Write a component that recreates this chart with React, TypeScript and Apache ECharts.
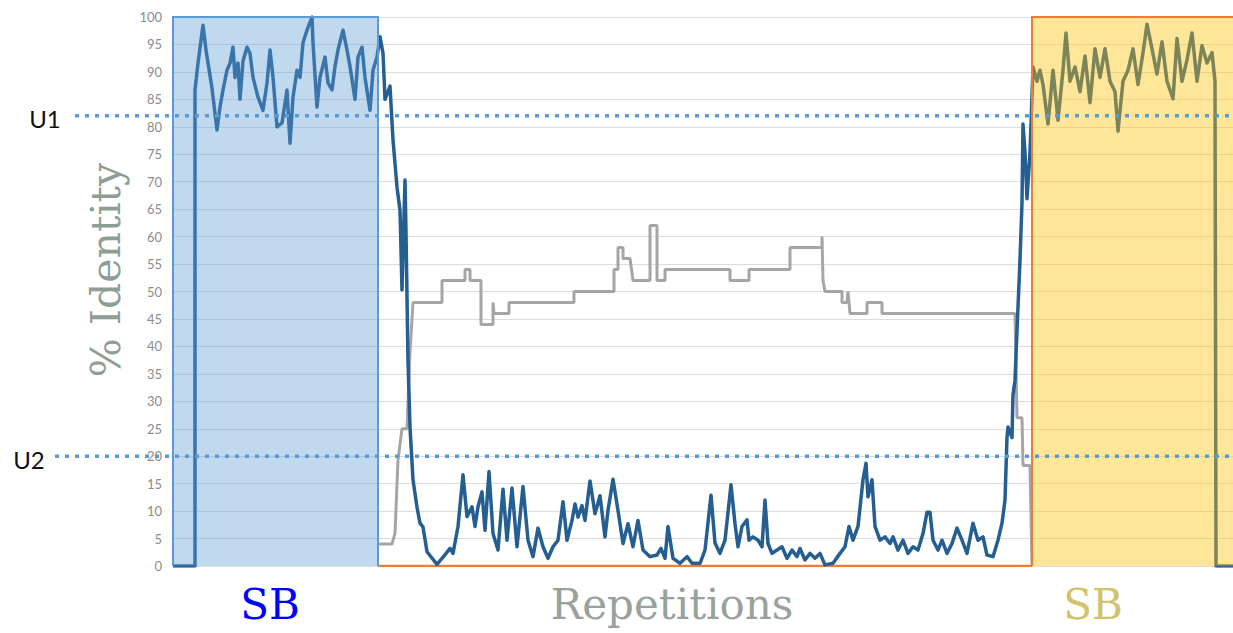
import React, { useEffect, useRef } from "react";
import * as echarts from "echarts";

// Position along the sequence (arbitrary units) and % identity
const positionRange: [number, number] = [0, 1060];
const identityRange: [number, number] = [0, 100];
const identityStep = 5;

// Core identity trace (blue)
const identityTrace: [number, number][] = [
  [0, 0], [22, 0], [22, 86.7], [25, 91.6], [30, 98.5], [33, 94], [39, 87], [44, 79.4],
  [47, 83.6], [50, 86.7], [54, 90.3], [57, 91.6], [60, 94.5], [62, 89], [65, 91.6], [67, 85],
  [70, 92], [74, 94.5], [77, 93.4], [80, 89], [85, 85.4], [90, 83], [94, 88], [97, 94],
  [100, 89], [104, 80], [109, 80.7], [114, 86.7], [117, 77], [120, 85.4], [124, 90.3], [127, 89],
  [130, 95.3], [134, 97.6], [139, 100], [140, 95.3], [144, 83.6], [147, 89], [152, 92.7], [155, 88],
  [159, 86.7], [162, 91], [165, 94], [170, 97.6], [174, 94], [177, 91], [182, 85], [185, 92.7],
  [189, 94.5], [192, 89], [197, 83], [200, 90.3], [204, 92.7], [207, 96.4], [210, 93.4], [212, 85],
  [217, 87.4], [220, 77.6], [224, 69], [227, 64.8], [229, 50.3], [232, 70.3], [233, 60.7], [235, 37.5],
  [237, 25.3], [240, 15.7], [244, 10.7], [247, 7.8], [250, 7.1], [254, 2.6], [264, 0.3], [270, 1.6],
  [277, 3.2], [280, 2.3], [285, 7.2], [290, 16.6], [294, 9], [299, 10.8], [302, 7.2], [305, 10.8],
  [309, 13.5], [312, 6.5], [316, 17.2], [320, 5.9], [325, 2.9], [330, 14], [334, 4.7], [339, 14.2],
  [344, 3.5], [350, 14.5], [355, 4.7], [360, 1.7], [365, 6.9], [370, 3.5], [375, 1.4], [380, 3.5],
  [385, 4.7], [390, 11.7], [394, 4.7], [399, 8.3], [402, 11.3], [405, 8.9], [409, 11], [412, 8.3],
  [417, 15.5], [422, 9.5], [427, 12.8], [432, 5.3], [435, 10.1], [440, 15.8], [445, 10.1], [450, 4.1],
  [455, 7.7], [460, 3.5], [465, 8.3], [470, 2.9], [477, 1.7], [484, 2.0], [488, 3.2], [492, 1.4],
  [495, 7.2], [500, 1.4], [507, 0.5], [514, 1.7], [519, 0.5], [527, 0.5], [532, 2.9], [538, 12.9],
  [542, 4.2], [547, 2.3], [552, 4.7], [558, 14.8], [562, 7.7], [565, 3.5], [569, 7.2], [574, 8.4],
  [576, 4.7], [580, 5.3], [585, 4.7], [589, 3.5], [592, 12], [595, 4.1], [599, 2.3], [604, 2.9],
  [609, 3.5], [614, 1.4], [619, 2.9], [624, 1.7], [627, 3.2], [632, 1.1], [637, 2.3], [642, 1.4],
  [647, 2.3], [652, 0.2], [660, 0.5], [667, 2.3], [672, 3.5], [676, 7.2], [680, 4.7], [685, 7.2],
  [690, 15.7], [693, 18.7], [695, 12.6], [699, 15.7], [702, 7.2], [707, 4.7], [712, 5.3], [717, 4.1],
  [720, 5.3], [725, 2.9], [730, 4.7], [735, 2.3], [740, 3.5], [745, 2.9], [750, 5.9], [754, 9.8],
  [757, 9.8], [760, 4.7], [765, 2.9], [769, 4.7], [774, 2.3], [779, 4.1], [784, 6.9], [789, 4.7],
  [794, 2.3], [800, 7.8], [805, 4.7], [810, 5.3], [814, 2.0], [820, 1.7], [825, 4.7], [829, 7.8],
  [832, 12], [834, 23.4], [835, 25.3], [839, 23.4], [840, 31.2], [842, 33.8], [844, 42.9], [847, 55.8],
  [849, 66.2], [850, 80.5], [852, 75.3], [854, 66.9], [857, 75.3], [860, 90.9], [864, 88.3], [867, 90.3],
  [870, 87.7], [875, 80.5], [880, 90.3], [885, 81.2], [890, 90.3], [893, 97.1], [897, 88.3], [902, 90.9],
  [907, 86.4], [912, 92.9], [917, 84.4], [922, 94.2], [927, 89.0], [932, 94.2], [937, 88.3], [942, 86.4],
  [945, 79.2], [950, 88.3], [955, 90.3], [960, 94.2], [965, 87.7], [970, 93.5], [974, 98.7], [979, 94.2],
  [984, 89.6], [989, 95.5], [994, 88.3], [1000, 85.1], [1004, 96.1], [1009, 88.3], [1014, 92.2], [1019, 97.1],
  [1024, 88.3], [1029, 94.8], [1034, 91.6], [1039, 93.5], [1042, 88.3], [1043, 0], [1060, 0],
];

// Repetition identity trace (grey, stepwise)
const repetitionTrace: [number, number][] = [
  [205, 4], [219, 4], [222, 6], [225, 19.3], [229, 25], [234, 25], [237, 39], [240, 48],
  [269, 48], [269, 52], [292, 52], [292, 54], [297, 54], [297, 52], [308, 52], [308, 44],
  [320, 44], [320, 48], [321, 46], [336, 46], [336, 48], [401, 48], [401, 50], [441, 50],
  [441, 54], [445, 54], [445, 58], [450, 58], [450, 56], [457, 56], [460, 52], [477, 52],
  [477, 62], [484, 62], [484, 52], [492, 52], [492, 54], [557, 54], [557, 52], [576, 52],
  [576, 54], [617, 54], [617, 58], [649, 58], [649, 60], [650, 52], [652, 50], [669, 50],
  [669, 48], [674, 48], [675, 50], [677, 46], [694, 46], [694, 48], [709, 48], [709, 46],
  [842, 46], [844, 27], [849, 27], [850, 18.3], [857, 18.3], [859, 0],
];

// Baseline between the two synteny blocks (orange)
const baselineTrace: [number, number][] = [[205, 0], [859, 0]];

// Synteny blocks [start, end]
const syntenyBlocks: [number, number][] = [[0, 205], [859, 1062]];

// Thresholds
const thresholdNames = ["U1", "U2"];
const thresholdValues = [82, 20];

// Region labels
const regionLabels = ["SB", "Repetitions", "SB"];

const blockStyles = [
  { fill: "rgba(91,155,213,0.38)", stroke: "#5b9bd5", closed: true },
  { fill: "rgba(255,192,0,0.4)", stroke: "#ed7d31", closed: false },
];

export default function App() {
  const ref = useRef<HTMLDivElement>(null);

  useEffect(() => {
    if (!ref.current) return;
    const chart = echarts.init(ref.current, null, { renderer: "svg" });
    chart.setOption({
      animation: false,
      backgroundColor: "#ffffff",
      grid: { left: 173, right: 0, top: 17, bottom: 67 },
      xAxis: {
        type: "value",
        min: positionRange[0],
        max: positionRange[1],
        show: false,
      },
      yAxis: {
        type: "value",
        min: identityRange[0],
        max: identityRange[1],
        interval: identityStep,
        axisLine: { show: false },
        axisTick: { show: false },
        axisLabel: { fontSize: 13, color: "#8c8c8c", margin: 11, fontFamily: "Lato" },
        splitLine: { lineStyle: { color: "#dcdcdc", width: 1 } },
      },
      series: [
        {
          type: "line",
          name: "Repetitions",
          data: repetitionTrace,
          showSymbol: false,
          symbol: "none",
          lineStyle: { color: "#a5a5a5", width: 3 },
          z: 2,
        },
        {
          type: "line",
          name: "Baseline",
          data: baselineTrace,
          showSymbol: false,
          symbol: "none",
          lineStyle: { color: "#ed7d31", width: 2.5 },
          z: 2,
        },
        {
          type: "line",
          name: "Identity",
          data: identityTrace,
          showSymbol: false,
          symbol: "none",
          lineStyle: { color: "#255e91", width: 3.5, join: "round" },
          z: 3,
        },
        {
          type: "custom",
          name: "SB",
          data: syntenyBlocks,
          clip: false,
          z: 5,
          renderItem: (params: any, api: any) => {
            const x0 = api.value(0);
            const x1 = api.value(1);
            const tl = api.coord([x0, identityRange[1]]);
            const br = api.coord([x1, identityRange[0]]);
            const st = blockStyles[params.dataIndex];
            const points = st.closed
              ? [[tl[0], br[1]], [tl[0], tl[1]], [br[0], tl[1]], [br[0], br[1]]]
              : [[tl[0], br[1]], [tl[0], tl[1]], [br[0], tl[1]]];
            return {
              type: "group",
              children: [
                {
                  type: "rect",
                  shape: { x: tl[0], y: tl[1], width: br[0] - tl[0], height: br[1] - tl[1] },
                  style: { fill: st.fill },
                },
                {
                  type: "polyline",
                  shape: { points },
                  style: { stroke: st.stroke, lineWidth: 2, fill: null },
                },
              ],
            };
          },
        },
      ],
    });

    const startXs = [75, 55];
    const labelXs = [45, 29];
    const graphics: any[] = [];
    thresholdValues.forEach((v, i) => {
      const y = chart.convertToPixel({ yAxisIndex: 0 }, v) as number;
      graphics.push({
        type: "line",
        z: 100,
        shape: { x1: startXs[i], y1: y, x2: 1233, y2: y },
        style: { stroke: "#5b9bd5", lineWidth: 3.5, lineDash: [4, 6] },
      });
      graphics.push({
        type: "text",
        z: 100,
        x: labelXs[i],
        y: y + 3,
        style: {
          text: thresholdNames[i],
          fontFamily: "Lato",
          fontSize: 24,
          fill: "#111111",
          textAlign: "center",
          textVerticalAlign: "middle",
        },
      });
    });
    const regionX = [270, 672, 1093];
    const regionColors = ["#0000ff", "#97a39a", "#cfc46c"];
    regionLabels.forEach((t, i) => {
      graphics.push({
        type: "text",
        z: 100,
        x: regionX[i],
        y: 604,
        style: {
          text: t,
          fontFamily: "DejaVu Serif",
          fontSize: 42,
          fill: regionColors[i],
          textAlign: "center",
          textVerticalAlign: "middle",
        },
      });
    });
    graphics.push({
      type: "text",
      z: 100,
      x: 106,
      y: 270,
      rotation: Math.PI / 2,
      style: {
        text: "% Identity",
        fontFamily: "DejaVu Serif",
        fontSize: 41,
        fill: "#8e9e92",
        textAlign: "center",
        textVerticalAlign: "middle",
      },
    });
    chart.setOption({ graphic: graphics });

    return () => chart.dispose();
  }, []);

  return (
    <div
      ref={ref}
      style={{ position: "fixed", left: 0, top: 0, width: 1233, height: 633 }}
    />
  );
}
